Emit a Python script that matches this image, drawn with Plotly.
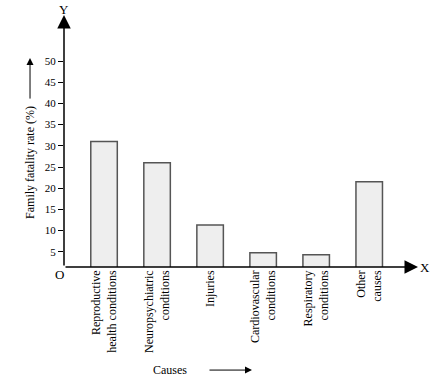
import plotly.graph_objects as go

categories = ["Reproductive<br>health conditions", "Neuropsychiatric<br>conditions", "Injuries",
              "Cardiovascular<br>conditions", "Respiratory<br>conditions", "Other<br>causes"]
values = [31, 26, 11.3, 4.8, 4.3, 21.5]
y_ticks = [5, 10, 15, 20, 25, 30, 35, 40, 45, 50]

FONT = "Liberation Serif"
x_range = [-0.755, 5.92]
y_range = [1.415, 60.85]

fig = go.Figure(go.Bar(
    x=list(range(len(categories))), y=values,
    marker=dict(color="#eeeeee", line=dict(color="#555555", width=1.5)),
    width=0.5,
))

fig.update_layout(
    width=438, height=379,
    margin=dict(l=64, r=20, t=15, b=112),
    plot_bgcolor="white", paper_bgcolor="white",
    font=dict(family=FONT, size=12, color="black"),
    showlegend=False,
    xaxis=dict(range=x_range, tickmode="array", tickvals=list(range(len(categories))),
               ticktext=categories, tickangle=-90, showgrid=False, zeroline=False,
               showline=False, ticks="", tickfont=dict(size=12, family=FONT)),
    yaxis=dict(range=y_range, tickmode="array", tickvals=y_ticks, ticks="outside",
               ticklen=5, tickcolor="black", showgrid=False, zeroline=False,
               showline=False, tickfont=dict(size=11, family=FONT)),
)

# axis lines with arrows
fig.add_annotation(x=x_range[0], y=y_range[1], ax=x_range[0], ay=y_range[0],
                   xref="x", yref="y", axref="x", ayref="y", text="", showarrow=True,
                   arrowhead=2, arrowsize=1.8, arrowwidth=1.5, arrowcolor="black", standoff=0)
fig.add_annotation(x=x_range[1], y=y_range[0], ax=x_range[0], ay=y_range[0],
                   xref="x", yref="y", axref="x", ayref="y", text="", showarrow=True,
                   arrowhead=2, arrowsize=1.8, arrowwidth=1.5, arrowcolor="black", standoff=0)

# axis letters
fig.add_annotation(x=0, y=1.0595, xref="paper", yref="paper", text="Y", showarrow=False,
                   xanchor="center", yanchor="top", font=dict(size=13))
fig.add_annotation(x=1.0, y=0, xref="paper", yref="paper", text="X", showarrow=False,
                   xanchor="left", yanchor="middle", xshift=0, font=dict(size=13))
fig.add_annotation(x=0, y=0, xref="paper", yref="paper", text="O", showarrow=False,
                   xanchor="right", yanchor="top", xshift=2, yshift=2, font=dict(size=13))

# y title with arrow
fig.add_annotation(x=-0.096, y=0.413, xref="paper", yref="paper", text="Family fatality rate (%)",
                   textangle=-90, showarrow=False, xanchor="center", yanchor="middle",
                   font=dict(size=12))
fig.add_annotation(x=-0.096, y=0.829, xref="paper", yref="paper", text="", showarrow=True,
                   ax=0, ay=42, arrowhead=2, arrowsize=1.4, arrowwidth=1, arrowcolor="black",
                   standoff=0)

# x title with arrow
fig.add_annotation(x=0.2994, y=-0.409, xref="paper", yref="paper", text="Causes",
                   showarrow=False, xanchor="center", yanchor="middle", font=dict(size=12))
fig.add_annotation(x=0.531, y=-0.409, xref="paper", yref="paper", text="", showarrow=True,
                   ax=-44, ay=0, arrowhead=2, arrowsize=1.4, arrowwidth=1, arrowcolor="black",
                   standoff=0)

fig.write_html("out.html", config={"displayModeBar": False},
               post_script="document.body.style.margin='0';document.body.style.padding='0';")
